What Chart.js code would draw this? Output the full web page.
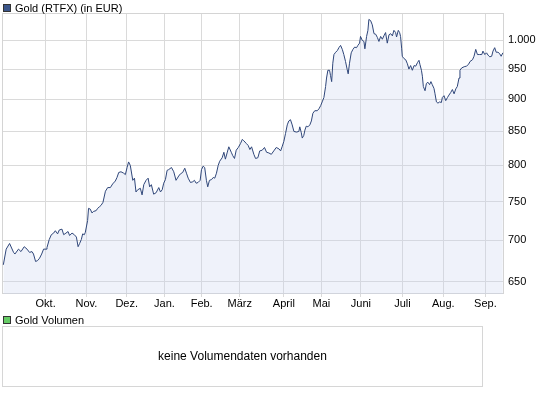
<!DOCTYPE html>
<html>
<head>
<meta charset="utf-8">
<script src="https://cdn.jsdelivr.net/npm/chart.js@4/dist/chart.umd.min.js"></script>
<style>
  body { margin: 0; background: #fff; font-family: "Liberation Sans", Arial, sans-serif; color: #000; }
  #wrap { position: relative; width: 545px; height: 395px; overflow: hidden; }
  #chart { position: absolute; left: 0; top: 0; }
  .legend { position: absolute; left: 3px; font-size: 11px; line-height: 12px; white-space: nowrap; }
  .legend span.box { display: inline-block; width: 6px; height: 6px; border: 1px solid #333; vertical-align: top; margin: 2px 4px 0 0; }
  #volBox { position: absolute; left: 2px; top: 326px; width: 479px; height: 59px; border: 1px solid #d6d6d6;
            font-size: 12px; text-align: center; line-height: 59px; }
</style>
</head>
<body>
<div id="wrap">
  <canvas id="chart" width="545" height="315"></canvas>
  <div class="legend" style="top:2px"><span class="box" style="background:#3c568a"></span>Gold (RTFX) (in EUR)</div>
  <div class="legend" style="top:314px"><span class="box" style="background:#66cc66"></span>Gold Volumen</div>
  <div id="volBox">keine Volumendaten vorhanden</div>
</div>
<script>
// trading day index (0 = mid Sept) and closing price in EUR
const days = [0.2,1.7,3.5,5.6,6.3,8.2,9.5,11.2,12.7,14.0,15.3,16.1,17.2,18.2,19.3,20.4,21.4,22.7,23.2,24.4,
  25.5,26.7,27.6,28.8,29.7,31.1,32.0,33.2,34.3,35.1,36.4,37.6,38.7,39.6,40.4,41.3,42.0,42.9,43.4,44.6,
  45.1,46.0,46.9,47.8,49.1,49.9,50.8,51.7,52.7,54.0,55.2,56.6,57.8,59.2,60.1,61.0,62.2,63.6,64.5,65.4,66.2,
  67.1,68.4,69.3,70.1,71.0,72.4,73.3,74.2,75.4,76.5,77.3,78.2,79.4,80.7,82.1,83.0,83.9,84.7,85.6,86.5,
  87.3,88.8,90.0,91.2,92.6,93.5,94.7,95.8,96.7,97.6,98.8,100.0,100.9,101.8,102.8,103.9,104.6,105.5,106.3,107.2,
  107.9,108.8,109.9,110.8,111.6,112.5,113.4,114.2,115.5,116.4,117.2,118.1,119.0,120.3,121.1,122.0,122.9,124.0,125.2,126.1,
  126.9,128.2,129.2,130.1,
  131.0,132.2,133.1,134.3,135.3,136.6,137.8,138.9,140.1,141.4,142.7,144.0,145.4,146.3,147.2,148.0,148.9,149.8,150.6,151.5,
  152.4,153.3,154.7,155.9,156.4,157.2,157.7,158.5,159.1,159.8,160.7,161.7,162.5,163.3,164.3,165.6,166.5,167.4,168.2,169.1,
  170.0,170.5,171.2,172.1,172.6,173.2,173.8,174.4,175.3,176.2,177.0,177.9,178.8,179.6,180.5,181.4,181.9,182.6,183.5,184.4,
  185.3,186.3,187.0,187.9,188.4,189.3,190.2,190.7,191.6,192.3,192.8,193.7,194.6,195.5,
  196.4,197.3,198.1,199.0,199.9,200.7,201.6,202.5,203.4,204.3,205.2,206.0,206.9,207.4,208.3,209.0,209.5,210.1,210.4,211.3,
  212.2,213.1,213.9,214.8,215.7,216.6,217.5,218.4,219.2,219.7,220.5,221.0,221.5,222.4,223.1,223.9,224.8,225.5,226.2,227.1,
  227.6,228.4,229.2,230.1,231.0,231.5,232.4,233.3,234.2,235.0,235.9,236.8,237.7,238.6,239.4,240.3,240.8,241.7,243.0,244.2,
  245.3,246.1,247.4,248.2,249.1,250.0,251.2,252.3,252.9,253.9,254.8,255.6,256.5,257.5,258.2,259.1,259.9,260.8,261.6,262.5,263.4];

const gold = [670,689,696,685,683,689,686,692,689,685,686,683,674,675,678,683,689,689,691,701,
  707,709,712,708,713,714,707,709,711,706,709,707,704,692,696,701,708,707,710,725,
  741,740,735,737,738,741,743,745,749,764,769,769,774,778,783,790,791,789,787,797,805,
  800,779,782,763,766,768,759,773,779,782,770,773,760,762,769,763,766,775,780,793,
  794,797,791,779,785,788,790,796,789,782,776,777,779,775,776,779,794,799,797,779,
  770,779,780,783,782,789,800,806,811,819,809,818,827,819,814,810,822,826,832,838,
  836,832,829,823,
  827,816,810,811,821,822,826,819,818,816,821,826,824,821,828,835,847,860,866,868,
  860,850,849,850,857,848,840,844,852,858,857,860,866,878,882,882,885,890,896,903,
  921,935,948,948,939,929,960,975,979,982,987,991,984,975,963,949,942,960,978,984,
  988,987,991,995,1007,1000,998,985,1007,1018,1038,1036,1028,1012,
  1011,1005,998,1007,1002,1008,1014,995,1010,1012,1008,1018,1014,1006,1018,1014,1007,985,972,968,
  966,959,950,956,948,956,955,961,965,958,948,938,921,914,926,928,924,929,924,918,
  910,896,894,896,895,903,906,898,903,907,911,916,909,917,921,935,948,952,954,955,
  958,963,966,972,984,975,975,975,981,975,978,974,971,972,981,987,979,979,977,972,978];

const monthDays = [22.5, 44.0, 65.2, 85.1, 104.7, 124.8, 148.0, 167.8, 188.6, 210.5, 232.0, 254.2];
const monthLabels = ['Okt.', 'Nov.', 'Dez.', 'Jan.', 'Feb.', 'März', 'April', 'Mai', 'Juni', 'Juli', 'Aug.', 'Sep.'];
const priceTicks = [650, 700, 750, 800, 850, 900, 950, 1000];

// light grey frame round the plot area
const plotFrame = {
  id: 'plotFrame',
  beforeDatasetsDraw(chart) {
    const { ctx, chartArea: a } = chart;
    ctx.save();
    ctx.strokeStyle = '#d4d4d4';
    ctx.lineWidth = 1;
    ctx.strokeRect(a.left + 0.5, a.top + 0.5, a.right - a.left - 1, a.bottom - a.top - 1);
    ctx.restore();
  }
};

const fontSpec = { family: '"Liberation Sans", Arial, sans-serif', size: 11 };

new Chart(document.getElementById('chart').getContext('2d'), {
  type: 'line',
  data: {
    datasets: [{
      label: 'Gold (RTFX) (in EUR)',
      data: days.map((d, i) => ({ x: d, y: gold[i] })),
      borderColor: '#2f4679',
      borderWidth: 1,
      backgroundColor: 'rgba(202,212,238,0.3)',
      fill: 'start',
      pointRadius: 0,
      tension: 0
    }]
  },
  options: {
    responsive: false,
    animation: false,
    layout: { padding: { left: 2, top: 13, right: 0, bottom: 0 } },
    plugins: { legend: { display: false }, tooltip: { enabled: false } },
    scales: {
      x: {
        type: 'linear',
        min: -0.5,
        max: 264,
        afterBuildTicks: scale => { scale.ticks = monthDays.map(v => ({ value: v })); },
        afterFit: scale => { scale.height = 21; },
        grid: { color: '#dadada', tickLength: 3 },
        border: { display: false },
        ticks: {
          autoSkip: false, maxRotation: 0, padding: 0, color: '#000', font: fontSpec,
          callback: (v, i) => monthLabels[i]
        }
      },
      y: {
        type: 'logarithmic',
        position: 'right',
        min: 636,
        max: 1050,
        afterBuildTicks: scale => { scale.ticks = priceTicks.map(v => ({ value: v })); },
        afterFit: scale => { scale.width = 41; },
        grid: { color: '#dadada', drawTicks: false },
        border: { display: false },
        ticks: {
          padding: 4, color: '#000', font: fontSpec,
          callback: v => String(v).replace(/\B(?=(\d{3})+(?!\d))/g, '.')
        }
      }
    }
  },
  plugins: [plotFrame]
});
</script>
</body>
</html>
